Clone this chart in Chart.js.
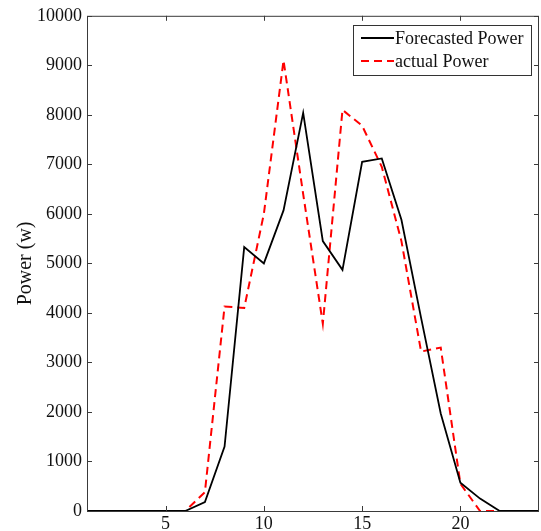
<!DOCTYPE html>
<html>
<head>
<meta charset="utf-8">
<script src="https://cdn.jsdelivr.net/npm/chart.js@4"></script>
<style>
  html, body { margin: 0; padding: 0; background: #fff; }
  #wrap { width: 541px; height: 531px; }
</style>
</head>
<body>
<div id="wrap"><canvas id="powerChart" width="541" height="531"></canvas></div>
<script>
// hours of the day
const hours = [1, 2, 3, 4, 5, 6, 7, 8, 9, 10, 11, 12, 13, 14, 15, 16, 17, 18, 19, 20, 21, 22, 23, 24];
// forecasted power (w)
const forecasted = [0, 0, 0, 0, 0, 0, 180, 1300, 5330, 5000, 6070, 8040, 5450, 4870, 7050, 7120, 5880, 3900, 1970, 570, 250, 0, 0, 0];
// actual power (w)
const actual = [0, 0, 0, 0, 0, 0, 380, 4130, 4100, 6000, 9100, 6400, 3780, 8100, 7780, 6950, 5450, 3220, 3300, 550, 0, 0, 0, 0];
// tick labels
const xTicks = [5, 10, 15, 20];
const yTicks = [0, 1000, 2000, 3000, 4000, 5000, 6000, 7000, 8000, 9000, 10000];

const serif = "'Liberation Serif', 'Times New Roman', serif";

// MATLAB style frame: box round the plot, ticks pointing inward, legend with border
const matlabFrame = {
  id: "matlabFrame",
  afterDatasetsDraw(chart) {
    const { ctx, chartArea: a, scales } = chart;
    ctx.save();
    ctx.strokeStyle = "#3a3a3a";
    ctx.lineWidth = 1;
    ctx.setLineDash([]);
    ctx.strokeRect(a.left + 0.5, a.top + 0.5, a.right - a.left - 1, a.bottom - a.top);
    const len = 5;
    ctx.beginPath();
    xTicks.forEach(v => {
      const px = Math.round(scales.x.getPixelForValue(v)) + 0.5;
      ctx.moveTo(px, a.bottom); ctx.lineTo(px, a.bottom - len);
      ctx.moveTo(px, a.top); ctx.lineTo(px, a.top + len);
    });
    yTicks.forEach(v => {
      const py = Math.round(scales.y.getPixelForValue(v)) + 0.5;
      ctx.moveTo(a.left, py); ctx.lineTo(a.left + len, py);
      ctx.moveTo(a.right, py); ctx.lineTo(a.right - len, py);
    });
    ctx.stroke();

    // legend
    const bx = 353, by = 25, bw = 178, bh = 50;
    ctx.fillStyle = "#fff";
    ctx.fillRect(bx, by, bw, bh);
    ctx.strokeStyle = "#333";
    ctx.strokeRect(bx + 0.5, by + 0.5, bw, bh);
    ctx.font = "18px " + serif;
    ctx.textBaseline = "middle";
    chart.data.datasets.forEach((ds, i) => {
      const cy = by + 13 + i * 23;
      ctx.strokeStyle = ds.borderColor;
      ctx.lineWidth = ds.borderWidth;
      ctx.setLineDash(ds.borderDash || []);
      ctx.beginPath();
      ctx.moveTo(bx + 8, cy);
      ctx.lineTo(bx + 41, cy);
      ctx.stroke();
      ctx.setLineDash([]);
      ctx.fillStyle = "#111";
      ctx.fillText(ds.label, bx + 42, cy + 1);
    });
    ctx.restore();
  }
};

const ctx = document.getElementById("powerChart").getContext("2d");

new Chart(ctx, {
  type: "line",
  data: {
    datasets: [{
      label: "Forecasted Power",
      data: hours.map((h, i) => ({ x: h, y: forecasted[i] })),
      borderColor: "#000000",
      borderWidth: 1.8,
      pointRadius: 0,
      tension: 0,
      fill: false
    }, {
      label: "actual Power",
      data: hours.map((h, i) => ({ x: h, y: actual[i] })),
      borderColor: "#ff0000",
      borderWidth: 2,
      borderDash: [8, 5],
      pointRadius: 0,
      tension: 0,
      fill: false
    }]
  },
  options: {
    responsive: false,
    animation: false,
    devicePixelRatio: 1,
    layout: { padding: { left: 14, top: 14, right: 2, bottom: 0 } },
    plugins: {
      legend: { display: false },
      tooltip: { enabled: false }
    },
    scales: {
      x: {
        type: "linear",
        min: 1,
        max: 24,
        afterBuildTicks: s => { s.ticks = xTicks.map(v => ({ value: v })); },
        afterFit: s => { s.height = 20; },
        grid: { display: false, drawTicks: false },
        border: { display: false },
        ticks: {
          color: "#111",
          font: { family: serif, size: 18 },
          padding: 2,
          maxRotation: 0,
          autoSkip: false
        }
      },
      y: {
        min: 0,
        max: 10000,
        afterBuildTicks: s => { s.ticks = yTicks.map(v => ({ value: v })); },
        afterFit: s => { s.width = 73; },
        grid: { display: false, drawTicks: false },
        border: { display: false },
        ticks: {
          color: "#111",
          font: { family: serif, size: 18 },
          padding: 5,
          callback: v => String(v)
        },
        title: {
          display: true,
          text: "Power (w)",
          color: "#111",
          font: { family: serif, size: 20 },
          padding: { top: 0, bottom: 0 }
        }
      }
    }
  },
  plugins: [matlabFrame]
});
</script>
</body>
</html>
